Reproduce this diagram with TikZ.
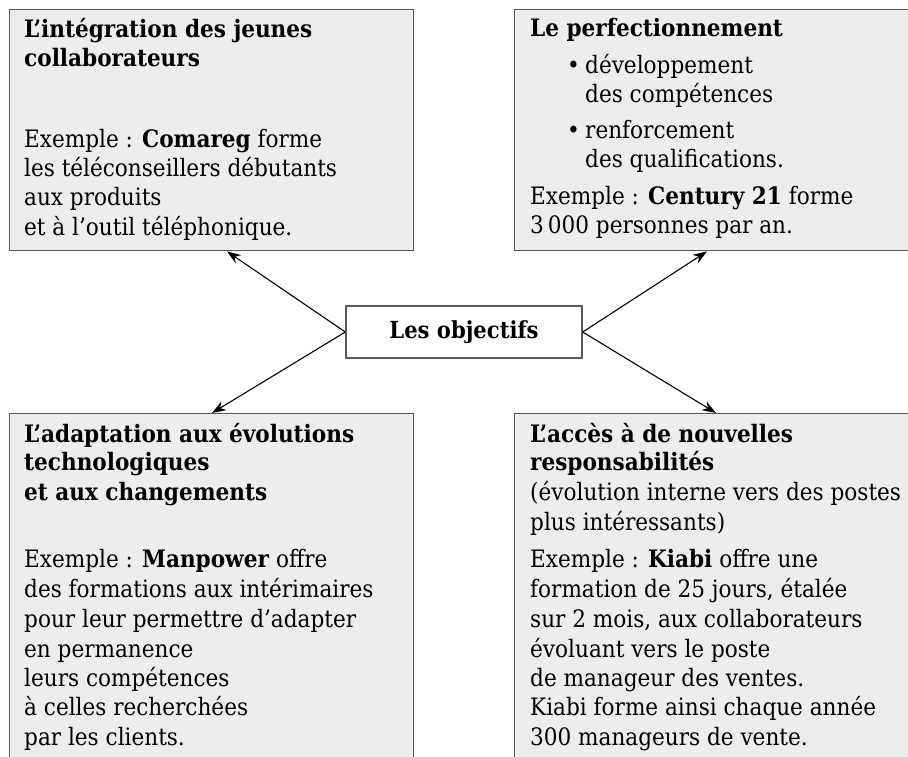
\documentclass[tikz,border=0pt]{standalone}
\usepackage{fontspec}
\setmainfont{DejaVu Serif Condensed}
\usetikzlibrary{arrows.meta,calc}
\definecolor{boxfill}{HTML}{EDEDED}
\definecolor{boxline}{HTML}{5A5A5A}
\tikzset{
 panel/.style={draw=boxline, fill=boxfill, line width=1.4pt, inner sep=0pt, anchor=north west},
 hub/.style={draw=boxline, fill=white, line width=1.4pt, inner sep=0pt, minimum width=236pt, minimum height=52pt, font=\fontsize{23.5}{30}\selectfont\bfseries},
 txt/.style={anchor=base west, inner sep=0pt, font=\fontsize{24}{30}\selectfont},
 head/.style={txt, font=\fontsize{24}{30}\selectfont\bfseries},
 link/.style={line width=1.1pt, -{Stealth[length=14pt,width=10pt]}},
}
\begin{document}
\begin{tikzpicture}[x=1pt,y=-1pt]
\useasboundingbox (0,0) rectangle (908,756);
\node[panel, minimum width=404pt, minimum height=241pt] (tl) at (9,9) {};
\node[panel, minimum width=404pt, minimum height=241pt] (tr) at (514,9) {};
\node[panel, minimum width=404pt, minimum height=360pt] (bl) at (9,413) {};
\node[panel, minimum width=404pt, minimum height=360pt] (br) at (514,413) {};
\node[hub] (hub) at (464,332) {Les objectifs};

\draw[link] (hub.west) -- ($(tl.south west)+(218,0)$);
\draw[link] (hub.east) -- ($(tr.south west)+(193,0)$);
\draw[link] (hub.west) -- ($(bl.north west)+(203,0)$);
\draw[link] (hub.east) -- ($(br.north west)+(202,0)$);

% top left
\node[head] (a1) at (24,37) {L’intégration des jeunes};
\node[head] (a2) at (24,66) {collaborateurs};
\node[txt] (a3) at (24,147) {Exemple~: \textbf{Comareg} forme};
\node[txt] (a4) at (24,176) {les téléconseillers débutants};
\node[txt] (a5) at (24,205) {aux produits};
\node[txt] (a6) at (24,235) {et à l’outil téléphonique.};

% top right
\node[head] (b1) at (530,36) {Le perfectionnement};
\node[txt] (b2) at (567,73) {•};
\node[txt] (b3) at (585,73) {développement};
\node[txt] (b4) at (585,102) {des compétences};
\node[txt] (b5) at (567,138) {•};
\node[txt] (b6) at (585,138) {renforcement};
\node[txt] (b7) at (585,167) {des qualifications.};
\node[txt] (b8) at (530,204) {Exemple~: \textbf{Century 21} forme};
\node[txt] (b9) at (530,233) {3\,000 personnes par an.};

% bottom left
\node[head] (c1) at (24,442) {L’adaptation aux évolutions};
\node[head] (c2) at (24,470) {technologiques};
\node[head] (c3) at (24,500) {et aux changements};
\node[txt] (c4) at (24,567) {Exemple~: \textbf{Manpower} offre};
\node[txt] (c5) at (24,597) {des formations aux intérimaires};
\node[txt] (c6) at (24,627) {pour leur permettre d’adapter};
\node[txt] (c7) at (24,657) {en permanence};
\node[txt] (c8) at (24,686) {leurs compétences};
\node[txt] (c9) at (24,715) {à celles recherchées};
\node[txt] (c10) at (24,745) {par les clients.};

% bottom right
\node[head] (d1) at (530,442) {L’accès à de nouvelles};
\node[head] (d2) at (530,470) {responsabilités};
\node[txt] (d3) at (530,500) {(évolution interne vers des postes};
\node[txt] (d4) at (530,530) {plus intéressants)};
\node[txt] (d5) at (530,567) {Exemple~: \textbf{Kiabi} offre une};
\node[txt] (d6) at (530,597) {formation de 25 jours, étalée};
\node[txt] (d7) at (530,627) {sur 2 mois, aux collaborateurs};
\node[txt] (d8) at (530,657) {évoluant vers le poste};
\node[txt] (d9) at (530,686) {de manageur des ventes.};
\node[txt] (d10) at (530,715) {Kiabi forme ainsi chaque année};
\node[txt] (d11) at (530,745) {300 manageurs de vente.};
\end{tikzpicture}
\end{document}
